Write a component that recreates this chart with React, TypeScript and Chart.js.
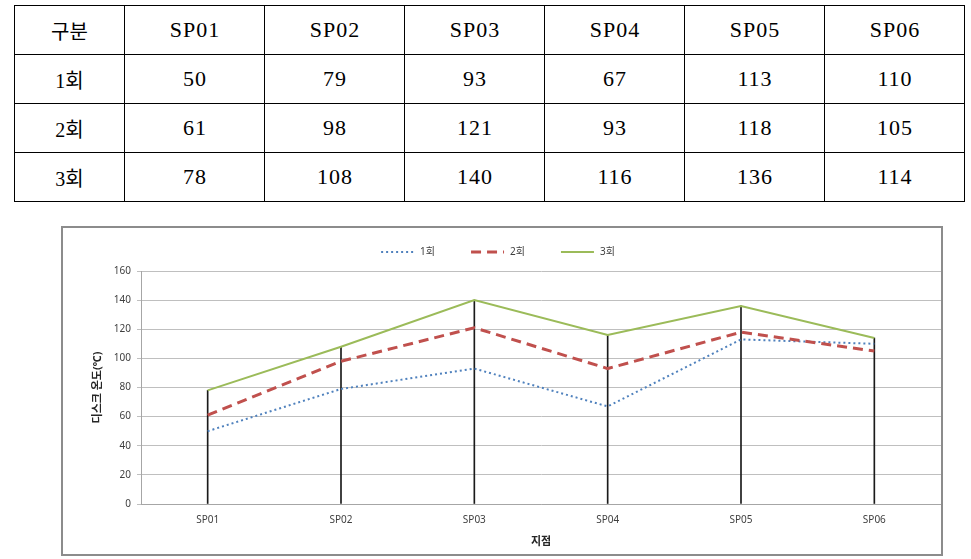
import React, { useEffect, useRef } from 'react';
import { Chart, registerables } from 'chart.js';

Chart.register(...registerables);

const categories = ['SP01', 'SP02', 'SP03', 'SP04', 'SP05', 'SP06'];
const round1 = [50, 79, 93, 67, 113, 110];
const round2 = [61, 98, 121, 93, 118, 105];
const round3 = [78, 108, 140, 116, 136, 114];
const seriesLabels = ['1회', '2회', '3회'];
const tableCorner = '구분';
const yTitle = '디스크 온도(℃)';
const xTitle = '지점';
const yMin = 0;
const yMax = 160;
const yStep = 20;

const series = [round1, round2, round3];
const dropLines = categories.map((_, i) => Math.max(round1[i], round2[i], round3[i]));

const FONT = '"Noto Sans", "Noto Sans CJK KR", sans-serif';
const TABLE_FONT = '"Liberation Serif", "Noto Sans CJK KR", serif';

const legendPlugin = {
  id: 'customLegend',
  afterDraw(chart: any) {
    const ctx = chart.ctx as CanvasRenderingContext2D;
    const items = chart.data.datasets.filter((d: any) => d.type === 'line');
    ctx.save();
    ctx.font = `10px ${FONT}`;
    const lineLen = 33;
    const gap = 6;
    const spacing = 36;
    const widths = items.map((d: any) => lineLen + gap + ctx.measureText(d.label).width);
    const total = widths.reduce((a: number, b: number) => a + b, 0) + spacing * (items.length - 1);
    let x = chart.width / 2 - total / 2 - 4;
    const y = 25;
    items.forEach((d: any, i: number) => {
      ctx.beginPath();
      ctx.setLineDash(d.borderDash || []);
      ctx.strokeStyle = d.borderColor;
      ctx.lineWidth = d.borderWidth;
      ctx.moveTo(x, y);
      ctx.lineTo(x + lineLen, y);
      ctx.stroke();
      ctx.setLineDash([]);
      ctx.fillStyle = '#404040';
      ctx.textBaseline = 'middle';
      ctx.textAlign = 'left';
      ctx.fillText(d.label, x + lineLen + gap, y + 0.5);
      x += widths[i] + spacing;
    });
    ctx.restore();
  },
};

function TempChart() {
  const ref = useRef<HTMLCanvasElement | null>(null);
  useEffect(() => {
    if (!ref.current) return;
    const chart = new Chart(ref.current, {
      data: {
        labels: categories,
        datasets: [
          {
            type: 'line',
            label: seriesLabels[0],
            data: series[0],
            borderColor: '#4F81BD',
            borderWidth: 2,
            borderDash: [2, 3],
            pointRadius: 0,
            tension: 0,
            fill: false,
            order: 3,
          },
          {
            type: 'line',
            label: seriesLabels[1],
            data: series[1],
            borderColor: '#C0504D',
            borderWidth: 3,
            borderDash: [10, 6],
            pointRadius: 0,
            tension: 0,
            fill: false,
            order: 2,
          },
          {
            type: 'line',
            label: seriesLabels[2],
            data: series[2],
            borderColor: '#9BBB59',
            borderWidth: 2,
            pointRadius: 0,
            tension: 0,
            fill: false,
            order: 1,
          },
          {
            type: 'bar',
            label: 'drop',
            data: dropLines,
            backgroundColor: '#1a1a1a',
            barThickness: 1,
            order: 10,
          },
        ],
      } as any,
      options: {
        animation: false,
        responsive: false,
        maintainAspectRatio: false,
        layout: { padding: { left: 25, right: 1, top: 44, bottom: 0 } },
        plugins: {
          legend: { display: false },
          tooltip: { enabled: false },
        },
        scales: {
          x: {
            offset: true,
            grid: { display: false, drawTicks: false },
            border: { display: true, color: '#A6A6A6', width: 1 },
            ticks: { color: '#404040', font: { family: FONT, size: 10 }, padding: 10 },
            title: {
              display: true,
              text: xTitle,
              color: '#262626',
              font: { family: FONT, size: 11, weight: 'bold' },
              padding: { top: 0, bottom: 7 },
            },
            afterFit: (s: any) => {
              s.height = 51;
            },
          },
          y: {
            min: yMin,
            max: yMax,
            ticks: {
              stepSize: yStep,
              color: '#404040',
              font: { family: FONT, size: 10 },
              padding: 6,
            },
            grid: { color: '#BFBFBF', tickLength: 4, lineWidth: 1 },
            border: { display: true, color: '#A6A6A6', width: 1 },
            title: {
              display: true,
              text: yTitle,
              color: '#262626',
              font: { family: FONT, size: 11, weight: 'bold' },
              padding: { top: 4, bottom: 4 },
            },
            afterFit: (s: any) => {
              s.width = 54;
            },
          },
        },
      } as any,
      plugins: [legendPlugin],
    });
    return () => chart.destroy();
  }, []);
  return (
    <>
      <canvas
        ref={ref}
        width={880}
        height={328}
        style={{ position: 'absolute', left: 62, top: 227, width: 880, height: 328 }}
      />
      <div
        style={{
          position: 'absolute',
          left: 61,
          top: 226,
          width: 882,
          height: 330,
          boxSizing: 'border-box',
          border: '2px solid #8C8C8C',
          pointerEvents: 'none',
        }}
      />
    </>
  );
}

function DataTable() {
  const cell: React.CSSProperties = {
    border: '1px solid #000',
    textAlign: 'center',
    verticalAlign: 'middle',
    padding: 0,
    paddingLeft: 1,
    height: 48,
    fontFamily: TABLE_FONT,
    fontSize: 22,
    letterSpacing: 1,
    color: '#000',
  };
  const headCell: React.CSSProperties = {
    ...cell,
    fontSize: 20,
    letterSpacing: 0,
    paddingLeft: 0,
  };
  return (
    <table
      style={{
        position: 'absolute',
        left: 14,
        top: 5,
        width: 950,
        borderCollapse: 'collapse',
        tableLayout: 'fixed',
      }}
    >
      <colgroup>
        <col style={{ width: 110 }} />
        {categories.map((c) => (
          <col key={c} style={{ width: 140 }} />
        ))}
      </colgroup>
      <tbody>
        <tr>
          <td style={headCell}>{tableCorner}</td>
          {categories.map((c) => (
            <td key={c} style={cell}>
              {c}
            </td>
          ))}
        </tr>
        {series.map((row, r) => (
          <tr key={r}>
            <td style={headCell}>{seriesLabels[r]}</td>
            {row.map((v, i) => (
              <td key={i} style={cell}>
                {v}
              </td>
            ))}
          </tr>
        ))}
      </tbody>
    </table>
  );
}

export default function App() {
  return (
    <div>
      <DataTable />
      <TempChart />
    </div>
  );
}
